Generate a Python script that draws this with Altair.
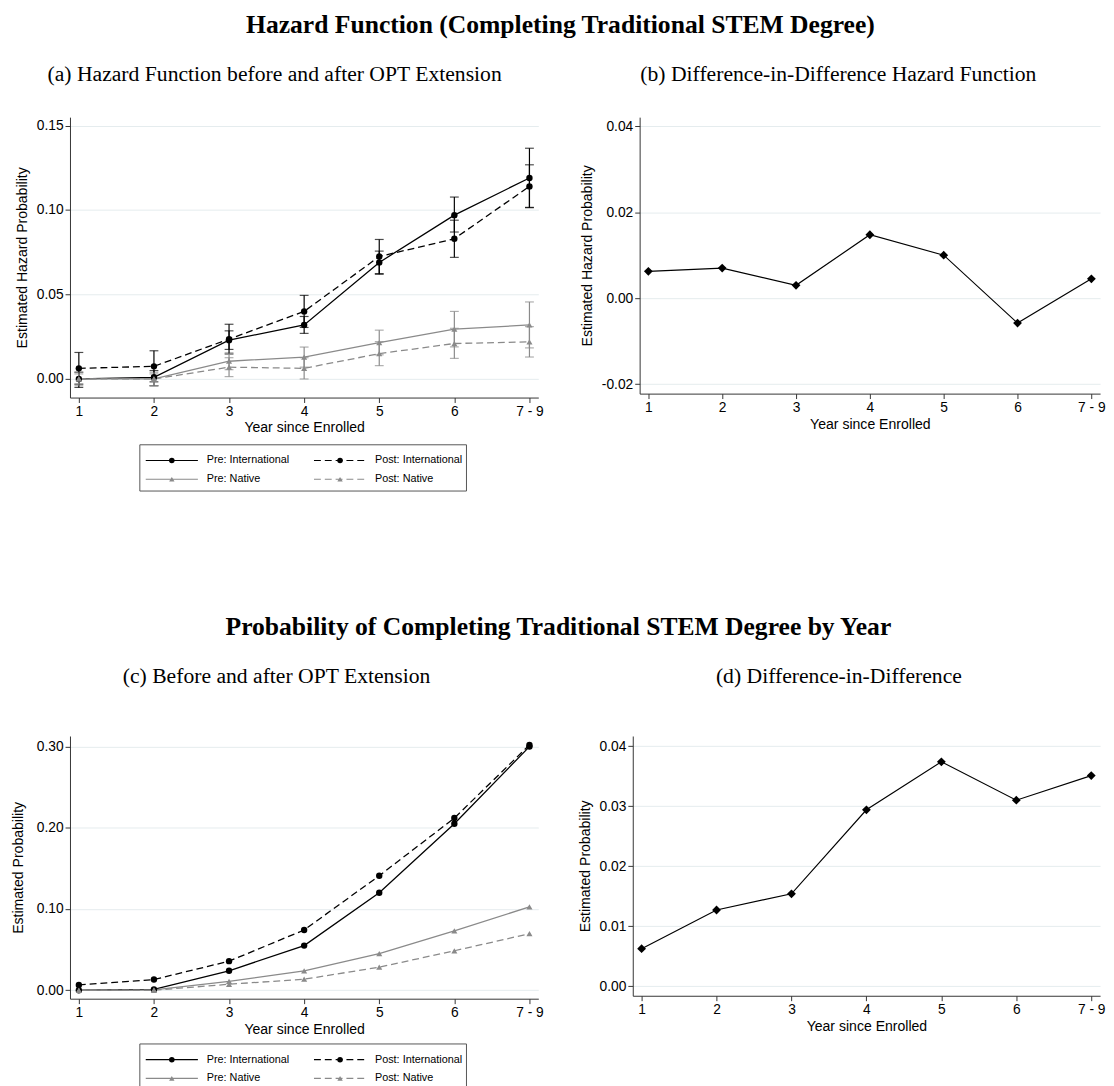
import altair as alt
import pandas as pd

# ---------------- data ----------------
years = [1, 2, 3, 4, 5, 6, 7]          # 7 stands for "7 - 9"
series_names = ["Pre: International", "Post: International", "Pre: Native", "Post: Native"]

# (a) hazard, estimates and 95% CI
haz_pre_int = [0.000, 0.001, 0.023, 0.032, 0.069, 0.097, 0.119]
haz_pre_int_lo = [-0.005, -0.004, 0.0175, 0.027, 0.062, 0.087, 0.1014]
haz_pre_int_hi = [0.004, 0.005, 0.0285, 0.037, 0.0757, 0.1077, 0.1366]
haz_post_int = [0.0063, 0.0075, 0.0236, 0.040, 0.0725, 0.083, 0.114]
haz_post_int_lo = [-0.0031, -0.0017, 0.0148, 0.0305, 0.0624, 0.072, 0.1016]
haz_post_int_hi = [0.0157, 0.0167, 0.0324, 0.0495, 0.0826, 0.094, 0.1268]
haz_pre_nat = [0.000, 0.000, 0.0105, 0.013, 0.0215, 0.0295, 0.032]
haz_pre_nat_lo = [-0.004, -0.004, 0.0055, 0.007, 0.0143, 0.019, 0.0184]
haz_pre_nat_hi = [0.004, 0.004, 0.0155, 0.0189, 0.0289, 0.040, 0.0456]
haz_post_nat = [0.000, 0.000, 0.007, 0.0063, 0.015, 0.021, 0.022]
haz_post_nat_lo = [-0.003, -0.004, 0.0014, 0.000, 0.0079, 0.0122, 0.013]
haz_post_nat_hi = [0.003, 0.003, 0.0126, 0.0126, 0.0221, 0.030, 0.031]

# (b) difference-in-difference hazard
did_haz = [0.00625, 0.0070, 0.0030, 0.01475, 0.0100, -0.0058, 0.0045]

# (c) cumulative probability
cum_pre_int = [0.000, 0.001, 0.024, 0.055, 0.120, 0.205, 0.300]
cum_post_int = [0.0066, 0.0132, 0.0358, 0.0742, 0.141, 0.212, 0.302]
cum_pre_nat = [0.000, 0.0005, 0.011, 0.024, 0.045, 0.073, 0.1026]
cum_post_nat = [0.000, 0.000, 0.0074, 0.0136, 0.0284, 0.0486, 0.0696]

# (d) difference-in-difference cumulative
did_cum = [0.00625, 0.0127, 0.0154, 0.0294, 0.0374, 0.031, 0.0351]

# ---------------- tables ----------------
def long_table(vals, los=None, his=None):
    rows = []
    for s, v in zip(series_names, vals):
        for i, y in enumerate(years):
            rows.append({"year": y, "series": s, "value": v[i],
                         "period": s.split(":")[0], "group": s.split(": ")[1]})
    df = pd.DataFrame(rows)
    if los is not None:
        df["lo"] = [x for l in los for x in l]
        df["hi"] = [x for h in his for x in h]
    return df

df_a = long_table([haz_pre_int, haz_post_int, haz_pre_nat, haz_post_nat],
                  [haz_pre_int_lo, haz_post_int_lo, haz_pre_nat_lo, haz_post_nat_lo],
                  [haz_pre_int_hi, haz_post_int_hi, haz_pre_nat_hi, haz_post_nat_hi])
df_c = long_table([cum_pre_int, cum_post_int, cum_pre_nat, cum_post_nat])
df_b = pd.DataFrame({"year": years, "value": did_haz})
df_d = pd.DataFrame({"year": years, "value": did_cum})

# ---------------- styles ----------------
SANS = "Liberation Sans"
SERIF = "Liberation Serif"
BLACK = "#000000"
GRAY = "#8a8a8a"
colors = [BLACK, BLACK, GRAY, GRAY]
DASH = [7, 4]

x_domain = [0.882, 7.118]
x_label_expr = "datum.value == 7 ? '7 - 9' : datum.label"
color_scale = alt.Scale(domain=series_names, range=colors)


def x_enc():
    return alt.X("year:Q",
                 scale=alt.Scale(domain=x_domain, nice=False, zero=False),
                 axis=alt.Axis(values=years, format="d", labelExpr=x_label_expr,
                               title="Year since Enrolled", grid=False, titlePadding=3))


def y_enc(field, domain, ticks, title, tpad=7):
    return alt.Y(field,
                 scale=alt.Scale(domain=domain, nice=False, zero=False),
                 axis=alt.Axis(values=ticks, format=".2f",
                               labelExpr="replace(datum.label, '\u2212', '-')",
                               title=title, grid=True, titlePadding=tpad))


def sub_title(text, offset, dx):
    return alt.Title(text, font=SERIF, fontSize=22, fontWeight="normal",
                     anchor="middle", frame="group", offset=offset, dx=dx, color=BLACK)


def group_panel(df, domain, ticks, title, subtitle, sub_offset, dx, width, height,
                with_err, tpad=7):
    base = alt.Chart(df)
    x = x_enc()
    y = y_enc("value:Q", domain, ticks, title, tpad)
    col = alt.Color("series:N", scale=color_scale, legend=None)
    layers = []
    layers.append(base.mark_line(strokeWidth=1.3).encode(
        x=x, y=y, color=col, detail="series:N").transform_filter("datum.period == 'Pre'"))
    if with_err:
        layers.append(base.mark_errorbar(ticks=True, size=9, thickness=1.2).encode(
            x=x, y=y_enc("lo:Q", domain, ticks, title, tpad),
            y2="hi:Q", color=col))
    layers.append(base.mark_line(strokeWidth=1.3, strokeDash=DASH).encode(
        x=x, y=y, color=col, detail="series:N").transform_filter("datum.period == 'Post'"))
    layers.append(base.mark_point(filled=True, shape="circle", size=42, opacity=1).encode(
        x=x, y=y, color=col).transform_filter("datum.group == 'International'"))
    layers.append(base.mark_point(filled=True, shape="triangle-up", size=38, opacity=1).encode(
        x=x, y=y, color=col).transform_filter("datum.group == 'Native'"))
    return alt.layer(*layers).properties(width=width, height=height,
                                         title=sub_title(subtitle, sub_offset, dx))


def did_panel(df, domain, ticks, title, subtitle, sub_offset, dx, width, height):
    base = alt.Chart(df)
    x = x_enc()
    y = y_enc("value:Q", domain, ticks, title)
    line = base.mark_line(color=BLACK, strokeWidth=1.2).encode(x=x, y=y)
    pts = base.mark_point(filled=True, shape="diamond", size=80, color=BLACK, opacity=1).encode(x=x, y=y)
    return alt.layer(line, pts).properties(width=width, height=height,
                                           title=sub_title(subtitle, sub_offset, dx))


# ---------------- legend (boxed, 2 x 2) ----------------
LEG_W, LEG_H = 470, 47          # legend strip, in its own pixel units
BOX_X0, BOX_W = 71, 332
COL_START = [6, 177]
LINE_LEN = 53
ROW_Y = [16, 35]
legend_rows = []
for k, s in enumerate(series_names):
    c, r = k % 2, k // 2
    x0 = BOX_X0 + COL_START[c]
    legend_rows.append({"series": s, "x0": x0, "x1": x0 + LINE_LEN, "xm": x0 + LINE_LEN / 2,
                        "xt": x0 + LINE_LEN + 9, "y": ROW_Y[r],
                        "period": s.split(":")[0], "group": s.split(": ")[1]})
legend_df = pd.DataFrame(legend_rows)
box_df = pd.DataFrame({"x0": [BOX_X0], "x1": [BOX_X0 + BOX_W], "y0": [0], "y1": [LEG_H]})


def legend_chart():
    lx = alt.Scale(domain=[0, LEG_W], nice=False, zero=False)
    ly = alt.Scale(domain=[LEG_H, 0], nice=False, zero=False)
    col = alt.Color("series:N", scale=color_scale, legend=None)
    box = alt.Chart(box_df).mark_rect(fillOpacity=0, stroke="#555555", strokeWidth=1).encode(
        x=alt.X("x0:Q", scale=lx, axis=None), x2="x1:Q",
        y=alt.Y("y0:Q", scale=ly, axis=None), y2="y1:Q")
    lb = alt.Chart(legend_df)
    solid = lb.mark_rule(strokeWidth=1.2).encode(
        x=alt.X("x0:Q", scale=lx, axis=None), x2="x1:Q",
        y=alt.Y("y:Q", scale=ly, axis=None), color=col).transform_filter("datum.period == 'Pre'")
    dashed = lb.mark_rule(strokeWidth=1.2, strokeDash=DASH).encode(
        x=alt.X("x0:Q", scale=lx, axis=None), x2="x1:Q",
        y=alt.Y("y:Q", scale=ly, axis=None), color=col).transform_filter("datum.period == 'Post'")
    circ = lb.mark_point(filled=True, shape="circle", size=32, opacity=1).encode(
        x=alt.X("xm:Q", scale=lx, axis=None), y=alt.Y("y:Q", scale=ly, axis=None),
        color=col).transform_filter("datum.group == 'International'")
    tri = lb.mark_point(filled=True, shape="triangle-up", size=30, opacity=1).encode(
        x=alt.X("xm:Q", scale=lx, axis=None), y=alt.Y("y:Q", scale=ly, axis=None),
        color=col).transform_filter("datum.group == 'Native'")
    txt = lb.mark_text(align="left", baseline="middle", font=SANS, fontSize=11, color=BLACK).encode(
        x=alt.X("xt:Q", scale=lx, axis=None), y=alt.Y("y:Q", scale=ly, axis=None), text="series:N")
    return alt.layer(box, solid, dashed, circ, tri, txt).properties(width=LEG_W, height=LEG_H)


pa = group_panel(df_a, [-0.011, 0.155], [0, 0.05, 0.10, 0.15], "Estimated Hazard Probability",
                 "(a) Hazard Function before and after OPT Extension", 32, -30, 476, 285, True)
pb = did_panel(df_b, [-0.0222, 0.0421], [-0.02, 0, 0.02, 0.04], "Estimated Hazard Probability",
               "(b) Difference-in-Difference Hazard Function", 32, -32, 468, 281)
pc = group_panel(df_c, [-0.0104, 0.313], [0, 0.10, 0.20, 0.30], "Estimated Probability",
                 "(c) Before and after OPT Extension", 49, -28, 476, 267, False, tpad=11)
pd_ = did_panel(df_d, [-0.0016, 0.0417], [0, 0.01, 0.02, 0.03, 0.04], "Estimated Probability",
                "(d) Difference-in-Difference", 49, -28, 475, 264)

col_a = alt.vconcat(pa, legend_chart(), spacing=8)
col_c = alt.vconcat(pc, legend_chart(), spacing=6)


def big_title(text):
    return alt.Title(text, font=SERIF, fontSize=26, fontWeight="bold",
                     anchor="middle", offset=26, color=BLACK)


row1 = alt.hconcat(col_a, pb, spacing=38,
                   title=big_title("Hazard Function (Completing Traditional STEM Degree)"))
row2 = alt.hconcat(col_c, pd_, spacing=35,
                   title=big_title("Probability of Completing Traditional STEM Degree by Year"))

chart = alt.vconcat(row1, row2, spacing=124).properties(
    padding={"left": 3, "top": -5, "right": 0, "bottom": 0}
).configure_view(stroke=None).configure_axis(
    domainColor="#333333", domainWidth=1, tickColor="#333333", tickSize=5, tickWidth=1,
    labelFont=SANS, labelFontSize=14, labelColor=BLACK, labelPadding=2,
    titleFont=SANS, titleFontSize=14.3, titleFontWeight="normal", titleColor=BLACK,
    gridColor="#e4ecee", gridWidth=1
).configure_title(font=SERIF, color=BLACK)

chart.save("out.html", embed_options={"renderer": "svg", "actions": False})
